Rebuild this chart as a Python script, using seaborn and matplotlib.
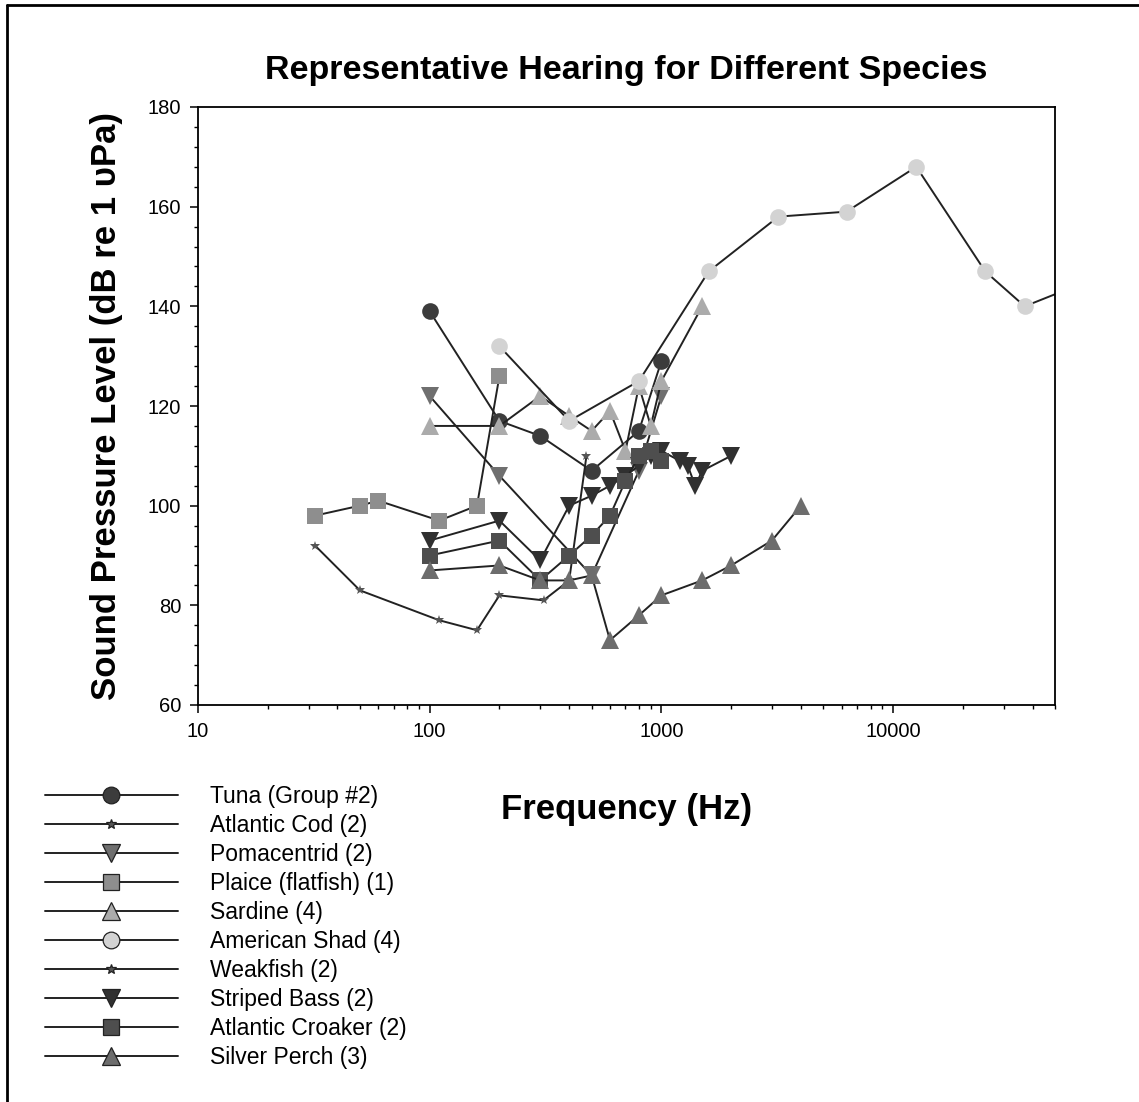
"""
Representative hearing thresholds for different fish species.

Audiogram-style chart: sound pressure level vs frequency (log scale), one
black line per species with a grey-shaded marker, legend placed below-left.
"""
import matplotlib

matplotlib.use("Agg")  # headless
import matplotlib.pyplot as plt  # noqa: E402
from matplotlib.lines import Line2D  # noqa: E402
from matplotlib.ticker import FixedLocator, MultipleLocator, FuncFormatter  # noqa: E402

import seaborn as sns  # noqa: E402

# Species data (frequency in Hz, level in dB re 1 uPa)
TUNA_F = [100, 200, 300, 500, 800, 1000]
TUNA_DB = [139, 117, 114, 107, 115, 129]

COD_F = [32, 50, 110, 160, 200, 310, 400]
COD_DB = [92, 83, 77, 75, 82, 81, 85]

POMA_F = [100, 200, 500, 800, 1000]
POMA_DB = [122, 106, 86, 107, 122]

PLAICE_F = [32, 50, 60, 110, 160, 200]
PLAICE_DB = [98, 100, 101, 97, 100, 126]

SARDINE_F = [100, 200, 300, 400, 500, 600, 700, 800, 900, 1000, 1500]
SARDINE_DB = [116, 116, 122, 118, 115, 119, 111, 124, 116, 125, 140]

SHAD_F = [200, 400, 800, 1600, 3200, 6300, 12600, 25000, 37000, 100000]
SHAD_DB = [132, 117, 125, 147, 158, 159, 168, 147, 140, 148]

WEAK_F = [400, 475]
WEAK_DB = [85, 110]

BASS_F = [100, 200, 300, 400, 500, 600, 700, 800, 900, 1000, 1200, 1300, 1400, 1500, 2000]
BASS_DB = [93, 97, 89, 100, 102, 104, 106, 108, 110, 111, 109, 108, 104, 107, 110]

CROAKER_F = [100, 200, 300, 400, 500, 600, 700, 800, 900, 1000]
CROAKER_DB = [90, 93, 85, 90, 94, 98, 105, 110, 111, 109]

PERCH_F = [100, 200, 300, 400, 500, 600, 800, 1000, 1500, 2000, 3000, 4000]
PERCH_DB = [87, 88, 85, 85, 86, 73, 78, 82, 85, 88, 93, 100]

SPECIES = [
    # label, freqs, levels, marker, size, face colour
    ("Tuna (Group #2)", TUNA_F, TUNA_DB, "o", 12, "#3c3c3c"),
    ("Atlantic Cod (2)", COD_F, COD_DB, "*", 7.5, "#555555"),
    ("Pomacentrid (2)", POMA_F, POMA_DB, "v", 12.5, "#6f6f6f"),
    ("Plaice (flatfish) (1)", PLAICE_F, PLAICE_DB, "s", 11.5, "#8e8e8e"),
    ("Sardine (4)", SARDINE_F, SARDINE_DB, "^", 12.5, "#ababab"),
    ("American Shad (4)", SHAD_F, SHAD_DB, "o", 12, "#d3d3d3"),
    ("Weakfish (2)", WEAK_F, WEAK_DB, "*", 7.5, "#555555"),
    ("Striped Bass (2)", BASS_F, BASS_DB, "v", 12.5, "#303030"),
    ("Atlantic Croaker (2)", CROAKER_F, CROAKER_DB, "s", 11.5, "#4e4e4e"),
    ("Silver Perch (3)", PERCH_F, PERCH_DB, "^", 12.5, "#6d6d6d"),
]

LINE_C = "#222222"

sns.set_theme(style="ticks")
plt.rcParams["font.family"] = ["Liberation Sans", "DejaVu Sans"]
plt.rcParams["text.color"] = "black"
plt.rcParams["axes.labelcolor"] = "black"

fig = plt.figure(figsize=(11.39, 11.02), dpi=100)
ax = fig.add_axes([198 / 1139, 1 - 705 / 1102, (1055 - 198) / 1139, (705 - 107) / 1102])
ax.set_xscale("log")

for name, xs, ys, mk, ms, fc in SPECIES:
    sns.lineplot(x=xs, y=ys, ax=ax, sort=False, estimator=None, color=LINE_C,
                 linewidth=1.4, marker=mk, markersize=ms, markerfacecolor=fc,
                 markeredgecolor=fc, markeredgewidth=0, label=name)

if ax.get_legend() is not None:
    ax.get_legend().remove()

ax.set_xlim(10, 50000)
ax.set_ylim(60, 180)
ax.xaxis.set_major_locator(FixedLocator([10, 100, 1000, 10000]))
ax.xaxis.set_major_formatter(FuncFormatter(lambda v, _: f"{v:.0f}"))
ax.yaxis.set_major_locator(MultipleLocator(20))
ax.yaxis.set_minor_locator(MultipleLocator(4))
ax.tick_params(which="major", direction="out", length=6, width=1.1,
               labelsize=14.5, colors="black", pad=6)
ax.tick_params(which="minor", direction="out", length=3, width=1.0, colors="black")
ax.tick_params(axis="x", which="minor", labelbottom=False)
for sp in ax.spines.values():
    sp.set_visible(True)
    sp.set_color("black")
    sp.set_linewidth(1.3)
ax.grid(False)

ax.set_title("Representative Hearing for Different Species", fontsize=24.5,
             fontweight="bold", pad=20, color="black")
ax.set_ylabel("Sound Pressure Level (dB re 1 \u03c5Pa)", fontsize=25, fontweight="bold")
ax.yaxis.set_label_coords(-0.088, 0.5)
ax.set_xlabel("Frequency (Hz)", fontsize=25, fontweight="bold", labelpad=38)

handles, labels = ax.get_legend_handles_labels()
leg = fig.legend(handles, labels, loc="upper left",
                 bbox_to_anchor=(45 / 1139, 1 - 785 / 1102),
                 frameon=False, fontsize=16.5, handlelength=5.8, handletextpad=1.39,
                 labelspacing=0.26, borderpad=0, borderaxespad=0, numpoints=1)
for h in leg.legend_handles:
    h.set_markeredgecolor(LINE_C)
    h.set_markeredgewidth(0.9)
for t in leg.get_texts():
    t.set_color("black")

# outer frame (top and left edges of the original figure box)
fig.add_artist(Line2D([7 / 1139, 1.0], [1 - 5 / 1102, 1 - 5 / 1102],
                      transform=fig.transFigure, color="black", linewidth=2))
fig.add_artist(Line2D([7 / 1139, 7 / 1139], [0.0, 1 - 5 / 1102],
                      transform=fig.transFigure, color="black", linewidth=2))

fig.savefig("out.png", dpi=100)
